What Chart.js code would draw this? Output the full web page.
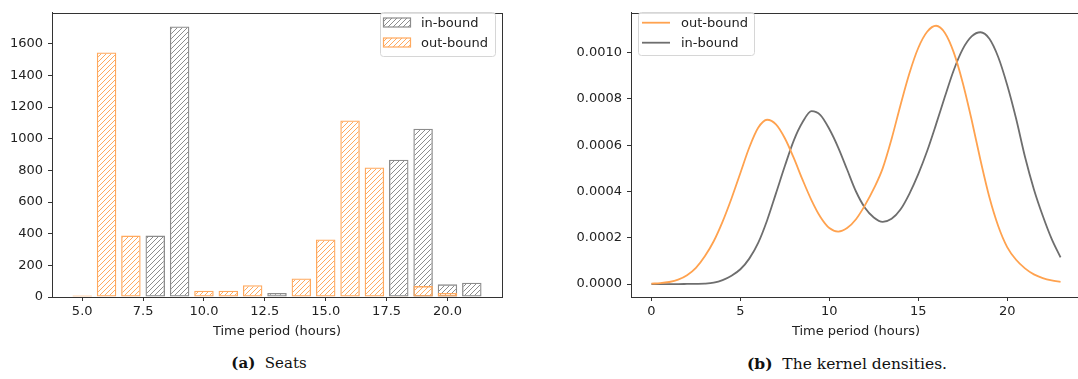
<!DOCTYPE html>
<html><head><meta charset="utf-8">
<script src="https://cdn.jsdelivr.net/npm/chart.js@4.4.0/dist/chart.umd.min.js"></script>
<style>
html,body{margin:0;padding:0;background:#fff;width:1078px;height:379px;overflow:hidden;position:relative;}
canvas{position:absolute;top:0;}
#c1{left:0;}
#c2{left:560px;}
.cap{position:absolute;top:354px;font-family:"DejaVu Serif","Liberation Serif",serif;font-size:15px;color:#111;white-space:nowrap;transform:translateX(-50%);}
</style></head><body>
<canvas id="c1" width="530" height="345"></canvas>
<canvas id="c2" width="530" height="345"></canvas>
<div class="cap" style="left:269px"><b>(a)</b>&nbsp;&nbsp;Seats</div>
<div class="cap" style="left:847px;font-size:15.5px"><b>(b)</b>&nbsp;&nbsp;The kernel densities.</div>
<script>
// ---- data: seats per hour ----
const hours    = [5, 6, 7, 8, 9, 10, 11, 12, 13, 14, 15, 16, 17, 18, 19, 20, 21];
const inBound  = [null, null, null, 388, 1710, null, null, null, 25, null, null, null, null, 868, 1063, 80, 90];
const outBound = [10, 1545, 388, null, null, 40, 40, 75, null, 117, 363, 1116, 819, 5, 69, 25, null];
const seatXTicks = [5.0, 7.5, 10.0, 12.5, 15.0, 17.5, 20.0];
const seatYTicks = [0, 200, 400, 600, 800, 1000, 1200, 1400, 1600];

// ---- data: kernel densities, units of 1e-4 ----
const kdeHours = [0, 0.5, 1, 1.5, 2, 2.5, 3, 3.5, 4, 4.5, 5, 5.5, 6, 6.5, 7, 7.5, 8, 8.5, 9, 9.5, 10, 10.5, 11, 11.5,
                  12, 12.5, 13, 13.5, 14, 14.5, 15, 15.5, 16, 16.5, 17, 17.5, 18, 18.5, 19, 19.5, 20, 20.5, 21, 21.5, 22, 22.5, 23];
const outDensity = [0.02, 0.04, 0.09, 0.19, 0.38, 0.7, 1.2, 1.85, 2.7, 3.7, 4.8, 5.9, 6.75, 7.1, 6.9, 6.3, 5.45, 4.5, 3.62, 2.9, 2.42, 2.27, 2.42, 2.8,
                    3.4, 4.12, 5.0, 6.27, 7.73, 9.1, 10.2, 10.9, 11.16, 10.85, 10.0, 8.7, 7.1, 5.35, 3.75, 2.5, 1.6, 1.05, 0.68, 0.42, 0.26, 0.16, 0.1];
const inDensity  = [0, 0, 0, 0, 0.005, 0.01, 0.02, 0.06, 0.17, 0.36, 0.64, 1.1, 1.78, 2.75, 3.92, 5.1, 6.2, 7.0, 7.47, 7.3, 6.7, 5.9, 4.95, 4.0,
                    3.3, 2.88, 2.69, 2.82, 3.22, 3.9, 4.75, 5.75, 6.9, 8.1, 9.25, 10.15, 10.7, 10.88, 10.6, 9.8, 8.6, 7.15, 5.5, 4.1, 2.95, 1.95, 1.15];
const kdeXTicks = [0, 5, 10, 15, 20];
const kdeYTicks = [0, 0.0002, 0.0004, 0.0006, 0.0008, 0.0010];

const ORANGE_BAR = '#ffa95e', GRAY_BAR = '#8c8c8c';
const ORANGE_LINE = '#ffa24f', GRAY_LINE = '#6e6e6e';
const FONT = {family: '"DejaVu Sans", sans-serif', size: 13};

function hatch(ctx, color, s) {
  const c = document.createElement('canvas'); c.width = s; c.height = s;
  const g = c.getContext('2d'); g.strokeStyle = color; g.lineWidth = 1;
  g.beginPath();
  g.moveTo(-1, s + 1); g.lineTo(s + 1, -1);
  g.moveTo(-1, 1); g.lineTo(1, -1);
  g.moveTo(s - 1, s + 1); g.lineTo(s + 1, s - 1);
  g.stroke();
  return ctx.createPattern(c, 'repeat');
}

const framePlugin = {
  id: 'frame',
  afterDatasetsDraw(chart) {
    const {ctx, chartArea: a} = chart;
    ctx.save(); ctx.strokeStyle = '#333'; ctx.lineWidth = 1;
    ctx.strokeRect(Math.round(a.left) + 0.5, Math.round(a.top) + 0.5, Math.round(a.right - a.left), Math.round(a.bottom - a.top));
    ctx.restore();
  }
};

function legendBox(ctx, x, y, w, h) {
  ctx.save();
  ctx.fillStyle = 'rgba(255,255,255,0.85)';
  ctx.strokeStyle = '#d6d6d6'; ctx.lineWidth = 1;
  ctx.beginPath(); ctx.roundRect(x + 0.5, y + 0.5, w, h, 3); ctx.fill(); ctx.stroke();
  ctx.restore();
}

const ctx1 = document.getElementById('c1').getContext('2d');
const patGray = hatch(ctx1, GRAY_BAR, 5);
const patOrange = hatch(ctx1, ORANGE_BAR, 5);

const legend1 = {
  id: 'legend1',
  afterDraw(chart) {
    const ctx = chart.ctx;
    legendBox(ctx, 380, 12, 115, 44);
    const items = [[patGray, GRAY_BAR, 'in-bound', 22.5], [patOrange, ORANGE_BAR, 'out-bound', 42.5]];
    ctx.save();
    ctx.font = '13px "DejaVu Sans"'; ctx.textBaseline = 'middle'; ctx.fillStyle = '#222';
    for (const [p, c, t, y] of items) {
      ctx.fillStyle = p; ctx.fillRect(383, y - 4.5, 28, 9);
      ctx.strokeStyle = c; ctx.lineWidth = 1.2; ctx.strokeRect(383.5, y - 4.5, 27, 9);
      ctx.fillStyle = '#222'; ctx.fillText(t, 421, y + 1);
    }
    ctx.restore();
  }
};

new Chart(ctx1, {
  type: 'bar',
  data: {
    datasets: [
      {label: 'out-bound', order: 0, data: hours.map((h, i) => ({x: h, y: outBound[i]})),
       backgroundColor: patOrange, borderColor: ORANGE_BAR, borderWidth: 1.3, borderSkipped: false},
      {label: 'in-bound', order: 1, data: hours.map((h, i) => ({x: h, y: inBound[i]})),
       backgroundColor: patGray, borderColor: GRAY_BAR, borderWidth: 1.3, borderSkipped: false}
    ]
  },
  options: {
    responsive: false, animation: false, devicePixelRatio: 1,
    grouped: false, categoryPercentage: 1.0, barPercentage: 0.8,
    layout: {padding: {left: 0, top: 5, right: 28, bottom: 0}},
    plugins: {legend: {display: false}, tooltip: {enabled: false}},
    scales: {
      x: {
        type: 'linear', min: 3.76, max: 22.24, offset: false,
        afterBuildTicks: s => { s.ticks = seatXTicks.map(v => ({value: v})); },
        afterFit: s => { s.height = 48; },
        ticks: {font: FONT, color: '#222', padding: 3, maxRotation: 0, callback: v => v.toFixed(1)},
        grid: {drawOnChartArea: false, drawTicks: true, tickLength: 4, color: '#333', offset: false},
        border: {display: true, color: '#333'},
        title: {display: true, text: 'Time period (hours)', font: FONT, color: '#222', padding: {top: 0, bottom: 6}}
      },
      y: {
        min: 0, max: 1796,
        afterBuildTicks: s => { s.ticks = seatYTicks.map(v => ({value: v})); },
        afterFit: s => { s.width = 52; },
        ticks: {font: FONT, color: '#222', padding: 5, callback: v => String(v)},
        grid: {drawOnChartArea: false, drawTicks: true, tickLength: 4, color: '#333'},
        border: {display: true, color: '#333'}
      }
    }
  },
  plugins: [framePlugin, legend1]
});

const ctx2 = document.getElementById('c2').getContext('2d');
const legend2 = {
  id: 'legend2',
  afterDraw(chart) {
    const ctx = chart.ctx;
    const ox = -560;
    legendBox(ctx, 638 + ox, 12, 116, 43);
    const items = [[ORANGE_LINE, 'out-bound', 22.7], [GRAY_LINE, 'in-bound', 42.7]];
    ctx.save();
    ctx.font = '13px "DejaVu Sans"'; ctx.textBaseline = 'middle';
    for (const [c, t, y] of items) {
      ctx.strokeStyle = c; ctx.lineWidth = 1.8;
      ctx.beginPath(); ctx.moveTo(642 + ox, y); ctx.lineTo(670 + ox, y); ctx.stroke();
      ctx.fillStyle = '#222'; ctx.fillText(t, 681 + ox, y + 1);
    }
    ctx.restore();
  }
};

new Chart(ctx2, {
  type: 'line',
  data: {
    datasets: [
      {label: 'out-bound', data: kdeHours.map((x, i) => ({x, y: outDensity[i] * 1e-4})), borderColor: ORANGE_LINE, borderWidth: 1.8,
       pointRadius: 0, fill: false, cubicInterpolationMode: 'monotone'},
      {label: 'in-bound', data: kdeHours.map((x, i) => ({x, y: inDensity[i] * 1e-4})), borderColor: GRAY_LINE, borderWidth: 1.8,
       pointRadius: 0, fill: false, cubicInterpolationMode: 'monotone'}
    ]
  },
  options: {
    responsive: false, animation: false, devicePixelRatio: 1,
    layout: {padding: {left: 0, top: 5, right: 9, bottom: 0}},
    plugins: {legend: {display: false}, tooltip: {enabled: false}},
    scales: {
      x: {
        type: 'linear', min: -1.15, max: 24.15,
        afterBuildTicks: s => { s.ticks = kdeXTicks.map(v => ({value: v})); },
        afterFit: s => { s.height = 48; },
        ticks: {font: FONT, color: '#222', padding: 3, maxRotation: 0},
        grid: {drawOnChartArea: false, drawTicks: true, tickLength: 4, color: '#333'},
        border: {display: true, color: '#333'},
        title: {display: true, text: 'Time period (hours)', font: FONT, color: '#222', padding: {top: 0, bottom: 6}}
      },
      y: {
        min: -0.0000558, max: 0.001172,
        afterBuildTicks: s => { s.ticks = kdeYTicks.map(v => ({value: v})); },
        afterFit: s => { s.width = 71; },
        ticks: {font: FONT, color: '#222', padding: 5, callback: v => v.toFixed(4)},
        grid: {drawOnChartArea: false, drawTicks: true, tickLength: 4, color: '#333'},
        border: {display: true, color: '#333'}
      }
    }
  },
  plugins: [framePlugin, legend2]
});
</script>
</body></html>
